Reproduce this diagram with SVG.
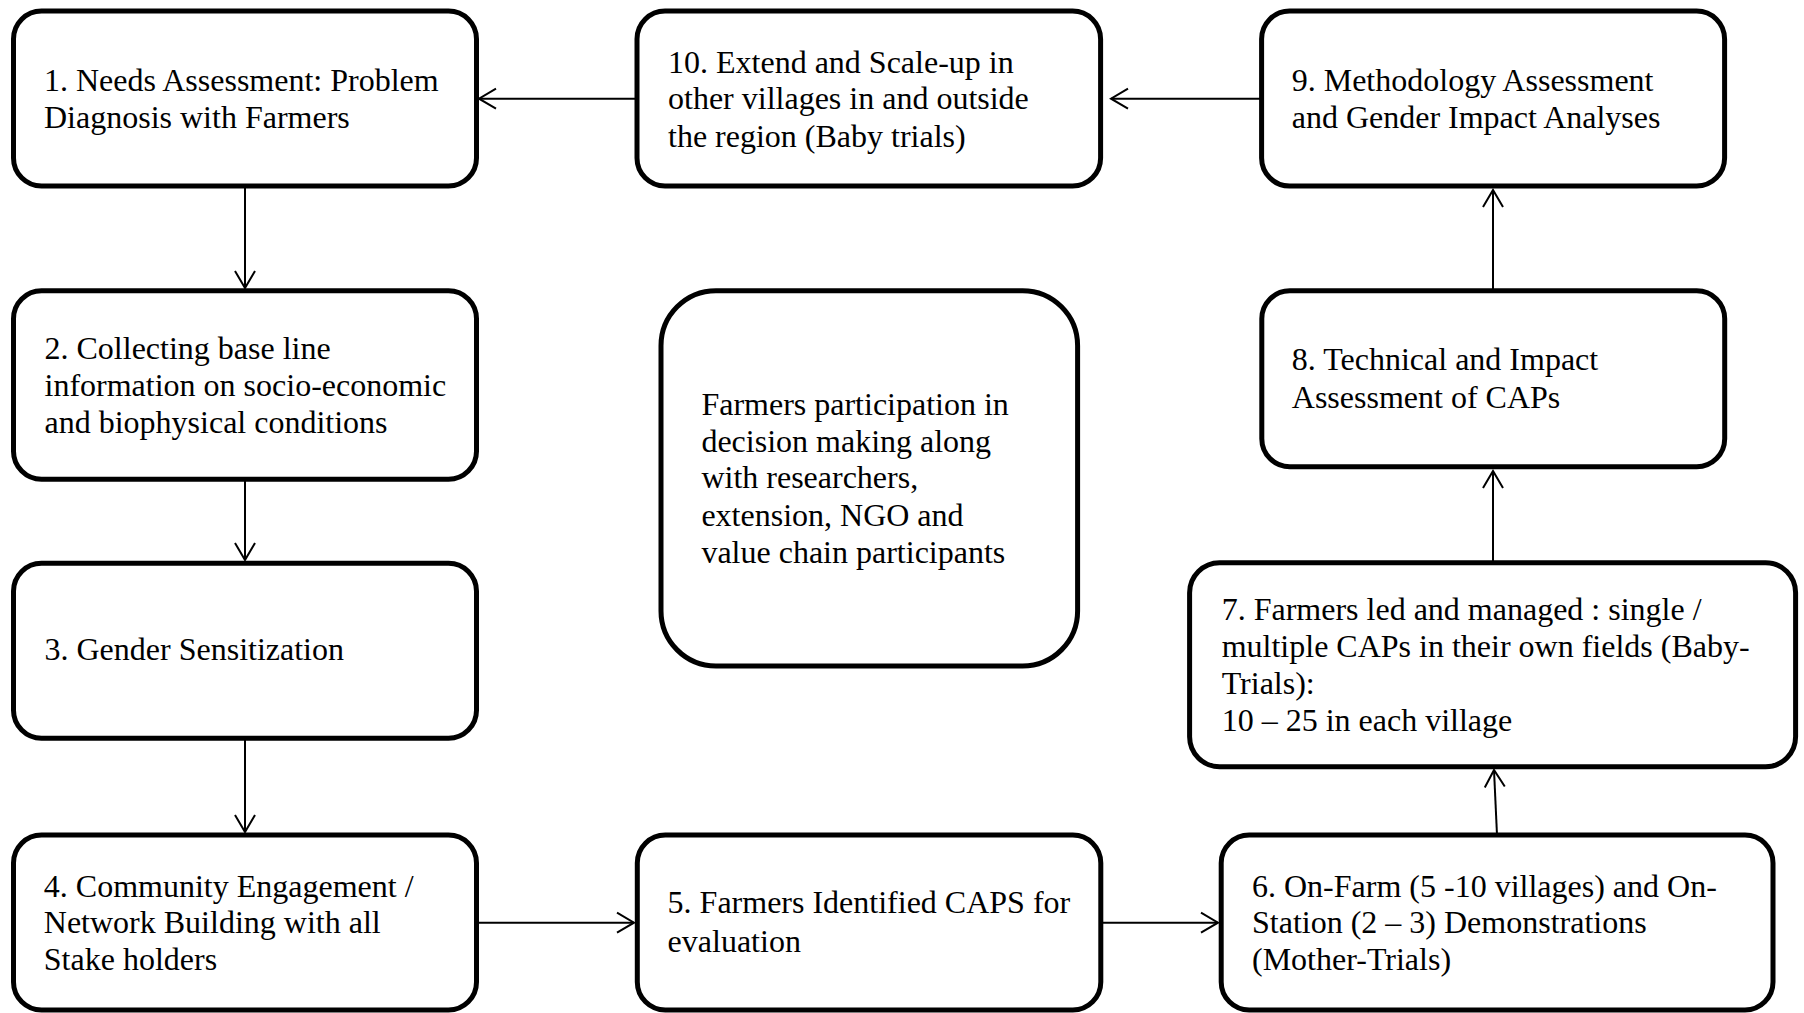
<svg xmlns="http://www.w3.org/2000/svg" width="1804" height="1013" viewBox="0 0 1804 1013">
  <style>
    .box { fill: #ffffff; stroke: #000000; stroke-width: 5; }
    .lbl { font-family: "Liberation Serif", "Times New Roman", serif; font-size: 32px; fill: #000000; }
    .link { fill: none; stroke: #000000; stroke-width: 2; marker-end: url(#arrow); }
  </style>
  <defs>
    <marker id="arrow" viewBox="-20 -12 22 24" refX="0" refY="0" markerWidth="22" markerHeight="24" markerUnits="userSpaceOnUse" orient="auto">
      <path d="M-17,-10 L0,0 L-17,10" fill="none" stroke="#000000" stroke-width="2"/>
    </marker>
  </defs>
  <rect width="1804" height="1013" fill="#ffffff"/>

  <!-- connectors -->
  <g id="connectors">
    <line class="link" x1="245" y1="186" x2="245" y2="288"/>
    <line class="link" x1="245" y1="479" x2="245" y2="560"/>
    <line class="link" x1="245" y1="738" x2="245" y2="832"/>
    <line class="link" x1="477" y1="922.7" x2="634" y2="922.7"/>
    <line class="link" x1="1101" y1="922.7" x2="1218" y2="922.7"/>
    <line class="link" x1="1497" y1="835" x2="1494" y2="770"/>
    <line class="link" x1="1493" y1="563" x2="1493" y2="471"/>
    <line class="link" x1="1493" y1="291" x2="1493" y2="190"/>
    <line class="link" x1="1261" y1="98.7" x2="1111" y2="98.7"/>
    <line class="link" x1="637" y1="98.7" x2="479" y2="98.7"/>
  </g>

  <g id="step1">
    <rect class="box" x="13.5" y="11" width="463" height="175" rx="28"/>
    <text class="lbl" x="44" y="90.7">1. Needs Assessment: Problem</text>
    <text class="lbl" x="44" y="128.3">Diagnosis with Farmers</text>
  </g>

  <g id="step2">
    <rect class="box" x="13.5" y="290.7" width="463" height="188.6" rx="28"/>
    <text class="lbl" x="44.5" y="359.3">2. Collecting base line</text>
    <text class="lbl" x="44.5" y="396">information on socio-economic</text>
    <text class="lbl" x="44.5" y="433.3">and biophysical conditions</text>
  </g>

  <g id="step3">
    <rect class="box" x="13.5" y="563.3" width="463" height="175" rx="28"/>
    <text class="lbl" x="44.5" y="660">3. Gender Sensitization</text>
  </g>

  <g id="step4">
    <rect class="box" x="13.5" y="835" width="463" height="175" rx="28"/>
    <text class="lbl" x="43.8" y="896.7">4. Community Engagement /</text>
    <text class="lbl" x="43.8" y="933.3">Network Building with all</text>
    <text class="lbl" x="43.8" y="970">Stake holders</text>
  </g>

  <g id="step5">
    <rect class="box" x="637.3" y="835" width="463.5" height="175" rx="28"/>
    <text class="lbl" x="667.6" y="913.3">5. Farmers Identified CAPS for</text>
    <text class="lbl" x="667.6" y="951.7">evaluation</text>
  </g>

  <g id="step6">
    <rect class="box" x="1221.2" y="835" width="551.8" height="175" rx="28"/>
    <text class="lbl" x="1252" y="896.7">6. On-Farm (5 -10 villages) and On-</text>
    <text class="lbl" x="1252" y="933.3">Station (2 – 3) Demonstrations</text>
    <text class="lbl" x="1252" y="970">(Mother-Trials)</text>
  </g>

  <g id="step7">
    <rect class="box" x="1189.6" y="562.7" width="606" height="204" rx="30"/>
    <text class="lbl" x="1221.7" y="620">7. Farmers led and managed : single /</text>
    <text class="lbl" x="1221.7" y="657.3">multiple CAPs in their own fields (Baby-</text>
    <text class="lbl" x="1221.7" y="694">Trials):</text>
    <text class="lbl" x="1221.7" y="730.7">10 – 25 in each village</text>
  </g>

  <g id="step8">
    <rect class="box" x="1261.8" y="290.7" width="462.9" height="176" rx="28"/>
    <text class="lbl" x="1291.8" y="370">8. Technical and Impact</text>
    <text class="lbl" x="1291.8" y="408.3">Assessment of CAPs</text>
  </g>

  <g id="step9">
    <rect class="box" x="1261.6" y="11" width="463" height="175" rx="28"/>
    <text class="lbl" x="1291.7" y="90.7">9. Methodology Assessment</text>
    <text class="lbl" x="1291.7" y="128.3">and Gender Impact Analyses</text>
  </g>

  <g id="step10">
    <rect class="box" x="637" y="11" width="463.6" height="175" rx="28"/>
    <text class="lbl" x="668" y="72.7">10. Extend and Scale-up in</text>
    <text class="lbl" x="668" y="109.3">other villages in and outside</text>
    <text class="lbl" x="668" y="146.7">the region (Baby trials)</text>
  </g>

  <g id="participation">
    <rect class="box" x="661" y="290.7" width="416.6" height="375.3" rx="55"/>
    <text class="lbl" x="701.4" y="415">Farmers participation in</text>
    <text class="lbl" x="701.4" y="451.7">decision making along</text>
    <text class="lbl" x="701.4" y="488.3">with researchers,</text>
    <text class="lbl" x="701.4" y="525.7">extension, NGO and</text>
    <text class="lbl" x="701.4" y="562.7">value chain participants</text>
  </g>
</svg>
